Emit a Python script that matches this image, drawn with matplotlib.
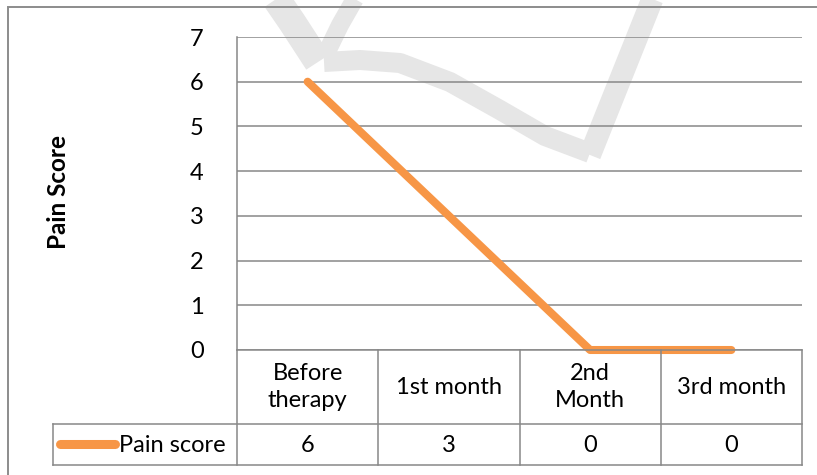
import matplotlib.pyplot as plt
from matplotlib.lines import Line2D
from matplotlib.patches import Rectangle
from matplotlib.transforms import IdentityTransform

# pain score at each follow-up point
stages = ['Before\ntherapy', '1st month', '2nd\nMonth', '3rd month']
pain_score = [6, 3, 0, 0]
series_name = 'Pain score'
y_ticks = [0, 1, 2, 3, 4, 5, 6, 7]

ORANGE = '#F79646'
GRID = '#888888'
FONT = 'Lato'
FS = 17

W, H = 817, 475
fig = plt.figure(figsize=(W / 100, H / 100), dpi=100)
fig.patch.set_facecolor('white')


def box(l, t, r, b):
    # pixel box (top-left origin) -> figure fraction rect
    return [l / W, 1 - b / H, (r - l) / W, (b - t) / H]


def wm(points, width_px):
    # faint brush-stroke watermark behind the chart, pixel coords
    xs = [p[0] for p in points]
    ys = [H - p[1] for p in points]
    fig.add_artist(Line2D(xs, ys, lw=width_px * 0.72, color='#e6e6e6',
                          transform=IdentityTransform(), zorder=-5,
                          solid_capstyle='butt', solid_joinstyle='round'))


wm([(270, -10), (292, 22), (318, 62)], 28)
wm([(360, -10), (340, 25), (324, 58)], 18)
wm([(324, 62), (360, 60), (400, 63), (450, 82), (500, 110), (545, 136), (590, 153)], 20)
wm([(590, 155), (620, 80), (656, -10)], 22)

# outer chart frame
fig.add_artist(Rectangle((8, -20), 840, H - 7 + 20, transform=IdentityTransform(),
                         fill=False, edgecolor='#8c8c8c', lw=1.4, zorder=-4))

# main plot area
ax = fig.add_axes(box(237, 37, 802, 350))
ax.patch.set_visible(False)
x = list(range(len(stages)))
ax.plot(x, pain_score, color=ORANGE, lw=5.8, solid_capstyle='round', zorder=3, clip_on=False)
ax.set_xlim(-0.5, len(stages) - 0.5)
ax.set_ylim(0, 7)
ax.set_yticks(y_ticks)
ax.set_yticklabels([str(v) for v in y_ticks], fontfamily=FONT, fontsize=FS)
ax.tick_params(axis='y', length=0, pad=24)
ax.set_xticks([])
ax.yaxis.grid(True, color=GRID, lw=1.1)
ax.set_axisbelow(True)
for s in ['top', 'right', 'bottom']:
    ax.spines[s].set_visible(False)
ax.spines['left'].set_color(GRID)
ax.spines['left'].set_linewidth(1.1)

fig.text(58 / W, 1 - 192 / H, 'Pain Score', rotation=90, ha='center', va='center',
         fontfamily=FONT, fontsize=17.5, fontweight='bold')

# data table under the axis
unit = (802 - 237) / len(stages)
left_w = (237 - 53) / unit
tab = fig.add_axes(box(53, 350, 802, 465))
tab.set_xlim(-0.5 - left_w, len(stages) - 0.5)
tab.set_ylim(115, 0)
tab.axis('off')
x0 = -0.5 - left_w
xr = len(stages) - 0.5
kw = dict(color=GRID, lw=1.1, clip_on=False)
tab.plot([-0.5, xr], [0, 0], **kw)
tab.plot([x0, xr], [74, 74], **kw)
tab.plot([x0, xr], [115, 115], **kw)
tab.plot([x0, x0], [74, 115], **kw)
for i in range(len(stages) + 1):
    tab.plot([i - 0.5, i - 0.5], [0, 115], **kw)

for i, (lab, v) in enumerate(zip(stages, pain_score)):
    tab.text(i, 37, lab, ha='center', va='center', fontfamily=FONT, fontsize=FS,
             linespacing=1.35)
    tab.text(i, 95, str(v), ha='center', va='center', fontfamily=FONT, fontsize=FS)

# legend key in the first column
px = lambda p: -0.5 - (237 - p) / unit
tab.plot([px(60), px(115)], [94, 94], color=ORANGE, lw=6.5, solid_capstyle='round')
tab.text(px(119), 95, series_name, ha='left', va='center', fontfamily=FONT, fontsize=FS)

fig.savefig('out.png', dpi=100)
